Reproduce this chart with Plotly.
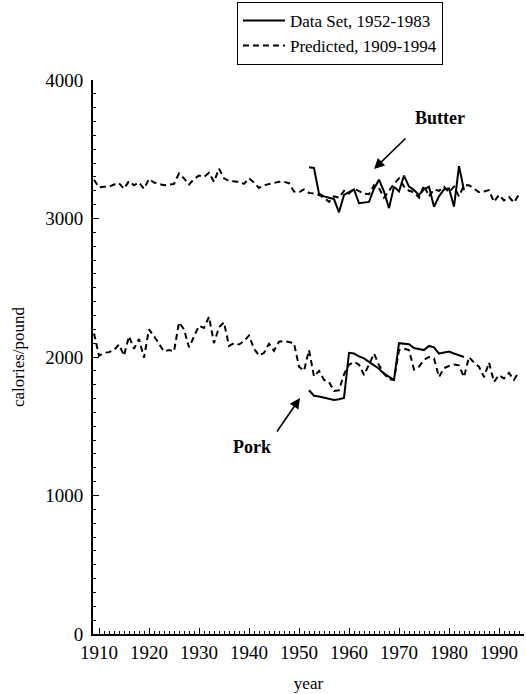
import plotly.graph_objects as go

pred_years = list(range(1909, 1995))
data_years = list(range(1952, 1984))

butter_pred = [
    3280, 3225, 3230, 3230, 3245, 3255, 3215, 3270, 3240, 3260,
    3215, 3285, 3260, 3250, 3240, 3245, 3250, 3325, 3290, 3245,
    3285, 3310, 3300, 3330, 3265, 3360, 3290, 3270, 3265, 3265,
    3250, 3290, 3260, 3220, 3240, 3250, 3260, 3265, 3265, 3255,
    3195, 3190, 3210, 3185, 3180, 3170, 3150, 3120, 3160, 3150,
    3200, 3180, 3215, 3200, 3180, 3175, 3240, 3220, 3150, 3200,
    3250, 3290, 3230, 3200, 3190, 3150, 3240, 3160, 3210, 3200,
    3230, 3190, 3230, 3160, 3240, 3240, 3215, 3190, 3195, 3205,
    3120, 3170, 3130, 3155, 3115, 3175,
]
butter_data = [
    3370, 3365, 3180, 3160, 3150, 3140, 3045, 3170, 3190, 3210,
    3110, 3115, 3120, 3215, 3280, 3195, 3075, 3230, 3195, 3310,
    3230, 3205, 3170, 3210, 3230, 3085, 3160, 3210, 3218, 3085,
    3378, 3205,
]
pork_pred = [
    2170, 2010, 2030, 2035, 2050, 2090, 2010, 2150, 2060, 2130,
    1995, 2200, 2150, 2090, 2040, 2050, 2040, 2250, 2200, 2070,
    2150, 2225, 2210, 2290, 2100, 2215, 2250, 2080, 2100, 2090,
    2115, 2155, 2060, 2010, 2030, 2095, 2045, 2110, 2115, 2110,
    2100, 1930, 1900, 2050, 1860, 1900, 1835, 1820, 1755, 1760,
    1875, 1945, 1965, 1945, 1870, 1945, 2025, 1940, 1880, 1840,
    1835, 2050, 2060, 2050, 1910, 1930, 1980, 2000, 1990, 1855,
    1920, 1935, 1945, 1940, 1855, 2000, 1960, 1930, 1855, 1960,
    1820, 1870, 1845, 1885, 1835, 1895,
]
pork_data = [
    1760, 1720, 1715, 1705, 1695, 1690, 1695, 1705, 2030, 2025,
    2005, 1990, 1965, 1942, 1915, 1880, 1855, 1835, 2100, 2095,
    2092, 2065, 2060, 2050, 2080, 2070, 2025, 2030, 2040, 2025,
    2015, 2000,
]

x_ticks = list(range(1910, 1991, 10))
y_ticks = [0, 1000, 2000, 3000, 4000]

FONT = "Liberation Serif"
fig = go.Figure()

fig.add_trace(go.Scatter(x=data_years, y=butter_data, mode="lines",
                         name="Data Set, 1952-1983",
                         line=dict(color="black", width=2)))
fig.add_trace(go.Scatter(x=pred_years, y=butter_pred, mode="lines",
                         name="Predicted, 1909-1994",
                         line=dict(color="black", width=2, dash="6px,4px")))
fig.add_trace(go.Scatter(x=data_years, y=pork_data, mode="lines",
                         showlegend=False,
                         line=dict(color="black", width=2)))
fig.add_trace(go.Scatter(x=pred_years, y=pork_pred, mode="lines",
                         showlegend=False,
                         line=dict(color="black", width=2, dash="6px,4px")))

annotations = [
    dict(x=1978.2, y=3725, text="<b>Butter</b>", showarrow=False,
         font=dict(family=FONT, size=18, color="black")),
    dict(x=1965, y=3357, ax=1971.6, ay=3588, axref="x", ayref="y",
         text="", showarrow=True, arrowhead=2, arrowsize=1.3,
         arrowwidth=1.6, arrowcolor="black"),
    dict(x=1940.5, y=1350, text="<b>Pork</b>", showarrow=False,
         font=dict(family=FONT, size=18, color="black")),
    dict(x=1950.2, y=1704, ax=1945.4, ay=1451, axref="x", ayref="y",
         text="", showarrow=True, arrowhead=2, arrowsize=1.3,
         arrowwidth=1.6, arrowcolor="black"),
]

fig.update_layout(
    width=526, height=694,
    margin=dict(l=93, r=2, t=80, b=60),
    paper_bgcolor="white", plot_bgcolor="white",
    font=dict(family=FONT, size=17, color="black"),
    showlegend=True,
    legend=dict(x=0.334, y=1.141, xanchor="left", yanchor="top",
                bordercolor="black", borderwidth=1, bgcolor="white",
                itemwidth=42,
                font=dict(family=FONT, size=17)),
    annotations=annotations,
    xaxis=dict(range=[1908.8, 1995], tickvals=x_ticks,
               ticks="inside", ticklen=6, tickwidth=1, tickcolor="black",
               minor=dict(dtick=1, tick0=1910, ticks="inside", ticklen=3,
                          tickcolor="black", tickwidth=1),
               showline=True, linecolor="black", linewidth=2,
               showgrid=False, zeroline=False,
               title=dict(text="year", font=dict(size=17), standoff=15),
               tickfont=dict(size=19)),
    yaxis=dict(range=[0, 4000], tickvals=y_ticks,
               ticks="inside", ticklen=6, tickwidth=1, tickcolor="black",
               minor=dict(dtick=100, ticks="inside", ticklen=3,
                          tickcolor="black", tickwidth=1),
               showline=True, linecolor="black", linewidth=2,
               showgrid=False, zeroline=False,
               title=dict(text="calories/pound", font=dict(size=17), standoff=16),
               tickfont=dict(size=19), ticklabelstandoff=4),
)

fig.write_html("out.html", config={"displayModeBar": False},
               post_script="document.body.style.margin='0';document.body.style.overflow='hidden';")
